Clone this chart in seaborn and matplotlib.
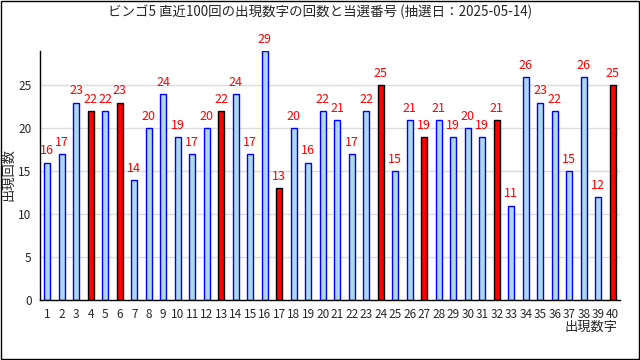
import pandas as pd
import matplotlib
matplotlib.use("Agg")
import matplotlib.pyplot as plt
import seaborn as sns
from matplotlib.patches import Rectangle
from matplotlib.ticker import MultipleLocator

# データ
numbers = list(range(1, 41))
counts = [16, 17, 23, 22, 22, 23, 14, 20, 24, 19,
          17, 20, 22, 24, 17, 29, 13, 20, 16, 22,
          21, 17, 22, 25, 15, 21, 19, 21, 19, 20,
          19, 21, 11, 26, 23, 22, 15, 26, 12, 25]
winning = [4, 6, 13, 17, 24, 27, 32, 40]

df = pd.DataFrame({"number": numbers, "count": counts})
df["hit"] = df["number"].isin(winning)

sns.set_style("white")
plt.rcParams["font.family"] = ["Noto Sans CJK JP", "DejaVu Sans"]

fig = plt.figure(figsize=(6.4, 3.6), dpi=100)
ax = fig.add_axes([40 / 640, 60 / 360, 580 / 640, 249 / 360])

sns.barplot(data=df, x="number", y="count", color="lightblue",
            width=0.42, ax=ax, saturation=1)

for patch, hit in zip(ax.patches, df["hit"]):
    if hit:
        patch.set_facecolor("red")
        patch.set_edgecolor("black")
    else:
        patch.set_facecolor("lightblue")
        patch.set_edgecolor("blue")
    patch.set_linewidth(1)

# 値ラベル
for i, c in enumerate(df["count"]):
    ax.text(i, c + 0.6, str(c), color="red", ha="center", va="bottom", fontsize=9)

ax.set_xlim(-0.5, 39.5)
ax.set_ylim(0, 29)
ax.yaxis.set_major_locator(MultipleLocator(5))
ax.grid(axis="y", color="#dddddd", linewidth=1)
ax.set_axisbelow(True)

for s in ["top", "right"]:
    ax.spines[s].set_visible(False)
for s in ["left", "bottom"]:
    ax.spines[s].set_color("black")
    ax.spines[s].set_linewidth(1)

ax.set_xticks(range(40))
ax.set_xticklabels([str(n) for n in numbers], fontsize=8.5)
ax.tick_params(axis="x", length=0, pad=6)
ax.set_xticks([i + 0.5 for i in range(40)], minor=True)
ax.tick_params(axis="x", which="minor", direction="in", length=5, color="black")
ax.tick_params(axis="y", length=0, labelsize=8.5, pad=6)

ax.set_xlabel("")
ax.set_ylabel("")
fig.text(618 / 640, 1 - 327 / 360, "出現数字", ha="right", va="center", fontsize=9.5)
fig.text(9 / 640, 1 - 174 / 360, "出現回数", rotation=90, ha="center", va="center", fontsize=9.5)
fig.text(0.5, 1 - 12 / 360, "ビンゴ5 直近100回の出現数字の回数と当選番号 (抽選日：2025-05-14)",
         ha="center", va="center", fontsize=9.7)

# 外枠
fig.patches.append(Rectangle((0.001, 0.002), 0.997, 0.996, transform=fig.transFigure,
                             fill=False, edgecolor="black", linewidth=1))

fig.savefig("out.png", dpi=100)
